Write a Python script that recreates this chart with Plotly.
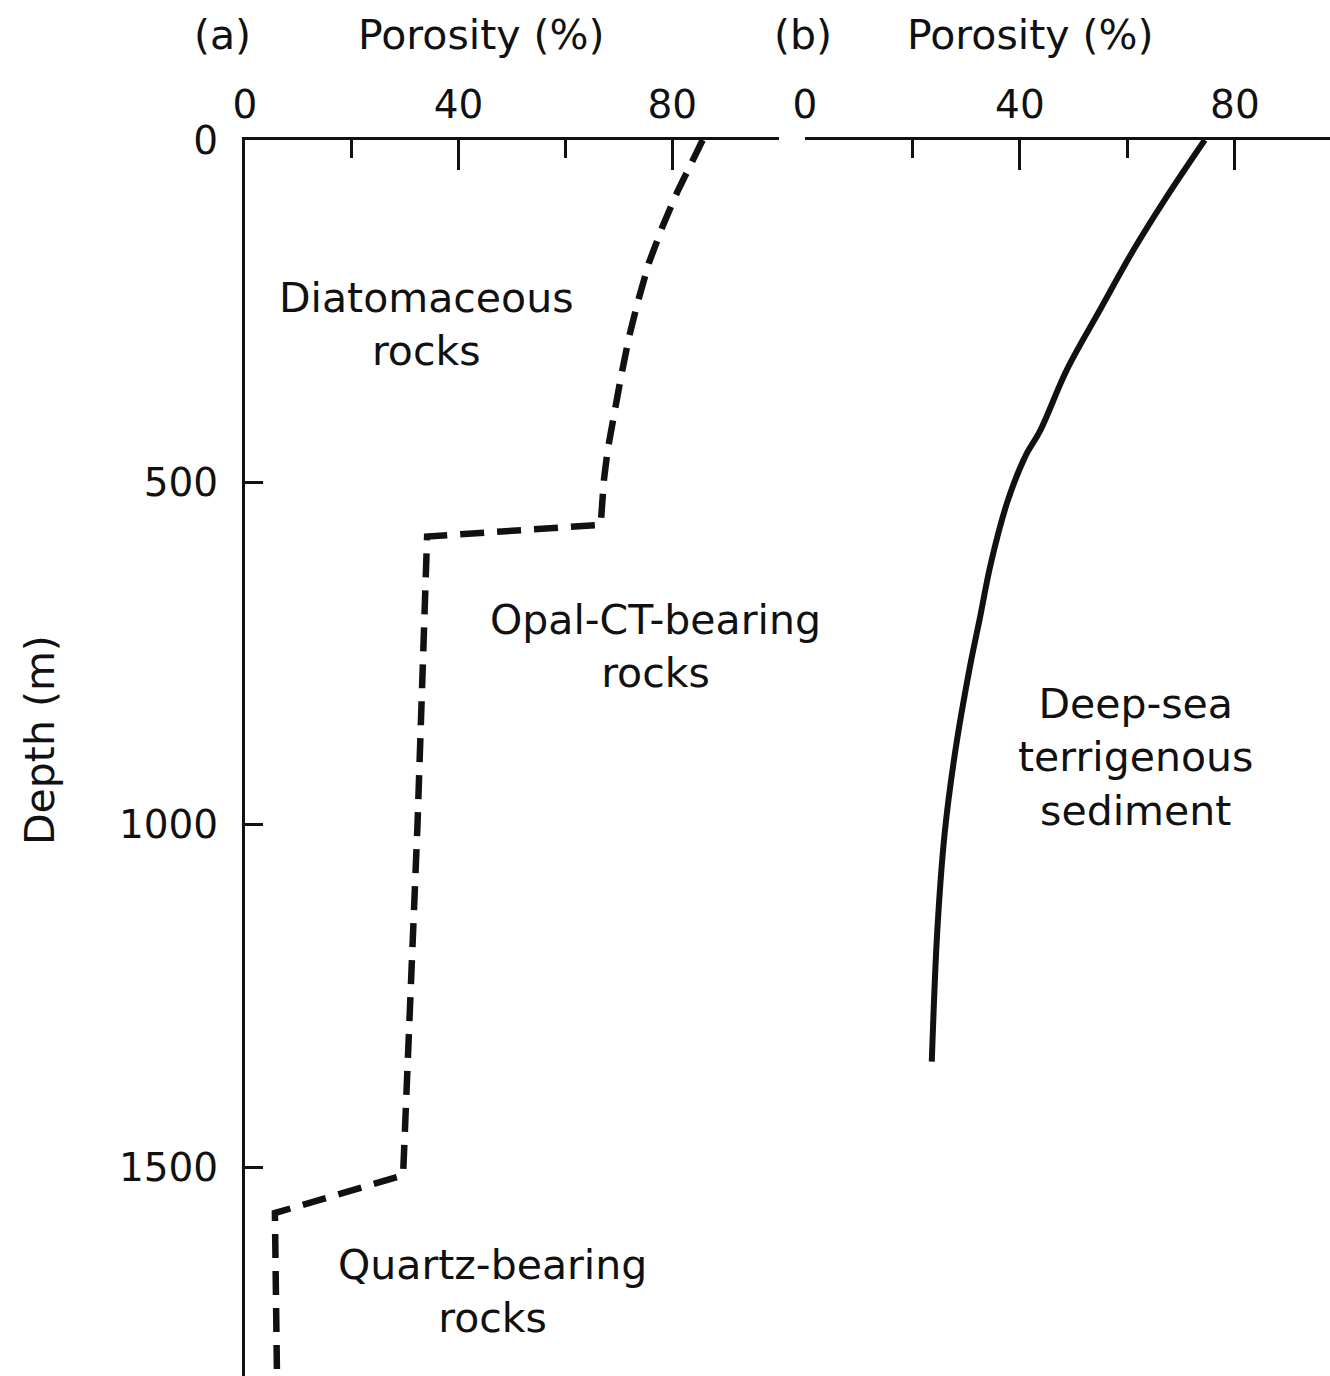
import plotly.graph_objects as go

# ---- data ----
# Panel (a): siliceous rocks porosity profile (dashed)
a_porosity = [85.7, 81.0, 78.2, 75.6, 73.5, 71.9, 70.4, 69.1, 67.9, 67.2, 66.6,
              34.1, 32.3, 29.6, 5.6, 6.0]
a_depth = [0, 75, 126, 180, 238, 288, 346, 399, 453, 497, 562,
           579, 1000, 1512, 1567, 1810]

# Panel (b): deep-sea terrigenous sediment porosity profile (solid)
b_porosity = [74.4, 67.3, 61.1, 54.9, 48.7, 43.8, 41.0, 37.6, 34.6, 32.5, 30.7,
              28.0, 26.0, 24.6, 23.6]
b_depth = [0, 83, 161, 248, 336, 424, 462, 530, 618, 700, 769,
           891, 1012, 1158, 1346]

depth_ticks = [0, 500, 1000, 1500]
x_ticks = [0, 40, 80]

FONT = "DejaVu Sans"
BLACK = "#111111"
FS = 41
TFS = 39

fig = go.Figure()
fig.add_trace(go.Scatter(x=a_porosity, y=a_depth, mode="lines", xaxis="x", yaxis="y",
                         line=dict(color=BLACK, width=6.5, dash="24px,13px"),
                         showlegend=False))
fig.add_trace(go.Scatter(x=b_porosity, y=b_depth, mode="lines", xaxis="x2", yaxis="y",
                         line=dict(color=BLACK, width=6, shape="spline", smoothing=1.0),
                         showlegend=False))

xcommon = dict(side="top", showline=True, linecolor=BLACK, linewidth=3,
               ticks="inside", ticklen=30, tickwidth=3, tickcolor=BLACK,
               tickvals=x_ticks, showgrid=False, zeroline=False,
               tickfont=dict(family=FONT, size=TFS, color=BLACK),
               minor=dict(tickvals=[20, 60, 100], ticks="inside", ticklen=18,
                          tickwidth=3, tickcolor=BLACK, showgrid=False),
               ticklabelstandoff=3, anchor="y", fixedrange=True)

fig.update_layout(
    width=1330, height=1376,
    margin=dict(l=245, r=0, t=140, b=0),
    paper_bgcolor="white", plot_bgcolor="white",
    xaxis=dict(domain=[0, 0.4922], range=[0, 100], **xcommon),
    xaxis2=dict(domain=[0.5161, 1.0], range=[0, 97.7], **xcommon),
    yaxis=dict(range=[1805, 0], showline=True, linecolor=BLACK, linewidth=3,
               ticks="inside", ticklen=18, tickwidth=3, tickcolor=BLACK,
               tickvals=depth_ticks, showgrid=False, zeroline=False,
               tickfont=dict(family=FONT, size=TFS, color=BLACK),
               ticklabelstandoff=16, anchor="x", fixedrange=True),
    font=dict(family=FONT, size=FS, color=BLACK),
)

def paper_x(px):
    return (px - 245) / 1085

def paper_y(py):
    return (1376 - py) / 1236

headers = [("(a)", 222), ("Porosity (%)", 481), ("(b)", 803), ("Porosity (%)", 1030)]
for txt, px in headers:
    fig.add_annotation(text=txt, x=paper_x(px), y=paper_y(35), xref="paper", yref="paper",
                       showarrow=False, xanchor="center", yanchor="middle",
                       font=dict(family=FONT, size=FS, color=BLACK))

fig.add_annotation(text="Depth (m)", x=paper_x(40), y=paper_y(740), xref="paper", yref="paper",
                   showarrow=False, textangle=-90, xanchor="center", yanchor="middle",
                   font=dict(family=FONT, size=FS, color=BLACK))

labels = [
    ("Diatomaceous<br>rocks", 33.9, 270, "x"),
    ("Opal-CT-bearing<br>rocks", 76.8, 740, "x"),
    ("Quartz-bearing<br>rocks", 46.4, 1682, "x"),
    ("Deep-sea<br>terrigenous<br>sediment", 61.5, 902, "x2"),
]
for txt, xv, yv, xr in labels:
    fig.add_annotation(text=txt, x=xv, y=yv, xref=xr, yref="y", showarrow=False,
                       xanchor="center", yanchor="middle", align="center",
                       font=dict(family=FONT, size=FS, color=BLACK))

fig.write_html("out.html")
